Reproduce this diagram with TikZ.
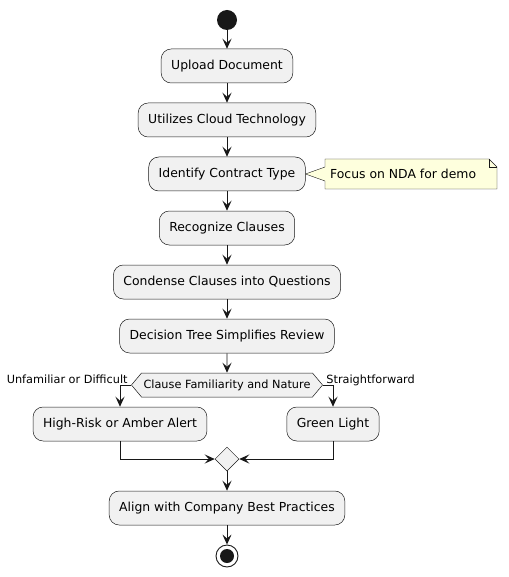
\documentclass[tikz,border=0pt]{standalone}
\usepackage{fontspec}
\setmainfont{DejaVu Sans}
\usepackage{xcolor}
\usetikzlibrary{arrows.meta}
\usetikzlibrary{calc}
\usetikzlibrary{backgrounds}
\usetikzlibrary{shapes.geometric}
\usetikzlibrary{shapes.symbols}
\definecolor{umlline}{HTML}{181818}
\definecolor{umlfill}{HTML}{F1F1F1}
\definecolor{notefill}{HTML}{FEFFDD}

\begin{document}
\begin{tikzpicture}[x=1pt, y=-1pt, font=\fontsize{12.4}{14}\selectfont,
  act/.style={draw=umlline, fill=umlfill, line width=0.5pt, rounded corners=10pt, minimum height=34pt, inner xsep=10pt},
  flow/.style={draw=umlline, line width=0.9pt, -{Stealth[length=10pt, width=9pt, inset=4pt]}},
  guard/.style={font=\fontsize{11.3}{13}\selectfont}]
  \useasboundingbox (0,0) rectangle (508,577);
  % start and activities
  \node[circle, fill=umlline, minimum size=20pt, inner sep=0pt] (start) at (227,20) {};
  \node[act] (upload) at (227,66) {Upload Document};
  \node[act] (cloud) at (227,120) {Utilizes Cloud Technology};
  \node[act] (identify) at (227,174) {Identify Contract Type};
  \node[act] (recognize) at (227,228) {Recognize Clauses};
  \node[act] (condense) at (227,282) {Condense Clauses into Questions};
  \node[act] (tree) at (227,336) {Decision Tree Simplifies Review};
  % decision and branches
  \node[signal, signal to=east and west, signal pointer angle=100, draw=umlline, fill=umlfill, line width=0.5pt,
    minimum height=24pt, inner xsep=2pt, inner ysep=0pt, font=\fontsize{11.3}{13}\selectfont] (decide) at (227,385) {Clause Familiarity and Nature};
  \node[act] (risk) at (120,424) {High-Risk or Amber Alert};
  \node[act] (green) at (333,424) {Green Light};
  \node[diamond, draw=umlline, fill=umlfill, line width=0.5pt, minimum size=24pt, inner sep=0pt] (merge) at (227,459) {};
  \node[act] (align) at (227,508) {Align with Company Best Practices};
  \node[circle, draw=umlline, line width=0.9pt, minimum size=22pt, inner sep=0pt] (stop) at (227,556) {};
  \node[circle, fill=umlline, minimum size=14pt, inner sep=0pt] at (stop) {};
  % note
  \node[anchor=west, inner sep=0pt] (note) at (330,174) {Focus on NDA for demo};
  \begin{scope}[on background layer]
    \path[draw=umlline, fill=notefill, line width=0.4pt]
      (325,159) -- (325,167) -- (identify.east) -- (325,181) -- (325,189)
      -- (497,189) -- (497,167) -- (489,159) -- cycle;
    \draw[umlline, line width=0.4pt] (489,159) -- (489,167) -- (497,167);
  \end{scope}
  % connectors
  \draw[flow] (start) -- (upload);
  \draw[flow] (upload) -- (cloud);
  \draw[flow] (cloud) -- (identify);
  \draw[flow] (identify) -- (recognize);
  \draw[flow] (recognize) -- (condense);
  \draw[flow] (condense) -- (tree);
  \draw[flow] (tree) -- (decide);
  \draw[flow] (decide.west) -| (risk.north);
  \draw[flow] (decide.east) -| (green.north);
  \node[guard, anchor=base east] at ($(decide.west)+(0,-2)$) {Unfamiliar or Difficult};
  \node[guard, anchor=base west] at ($(decide.east)+(0,-2)$) {Straightforward};
  \draw[flow] (risk.south) |- (merge.west);
  \draw[flow] (green.south) |- (merge.east);
  \draw[flow] (merge) -- (align);
  \draw[flow] (align) -- (stop);
\end{tikzpicture}
\end{document}
